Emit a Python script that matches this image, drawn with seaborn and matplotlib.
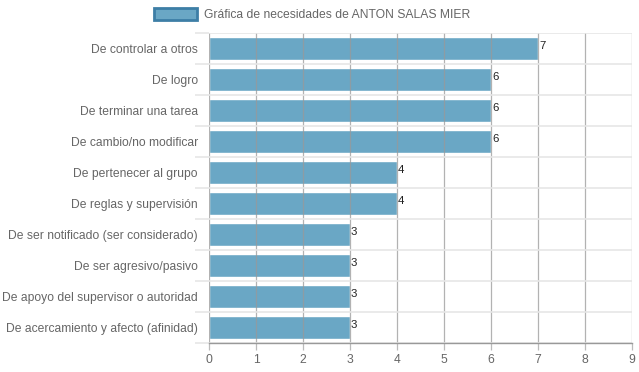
import numpy as np
import matplotlib
matplotlib.use("Agg")
import matplotlib.pyplot as plt
from matplotlib.patches import Patch
import seaborn as sns

categories = [
    "De controlar a otros",
    "De logro",
    "De terminar una tarea",
    "De cambio/no modificar",
    "De pertenecer al grupo",
    "De reglas y supervisión",
    "De ser notificado (ser considerado)",
    "De ser agresivo/pasivo",
    "De apoyo del supervisor o autoridad",
    "De acercamiento y afecto (afinidad)",
]
values = [7, 6, 6, 6, 4, 4, 3, 3, 3, 3]
series_label = "Gráfica de necesidades de ANTON SALAS MIER"
x_ticks = list(range(0, 10))

bar_color = "#6aa7c5"
edge_dark = "#3d7ea6"
text_color = "#666666"

sns.set_theme(style="white")
plt.rcParams["font.family"] = ["Liberation Sans", "DejaVu Sans"]

fig = plt.figure(figsize=(6.39, 3.72), dpi=100)
ax = fig.add_axes([209 / 639, 1 - 343 / 372, (632 - 209) / 639, (343 - 33) / 372])

sns.barplot(x=values, y=categories, orient="h", color=bar_color, saturation=1,
            width=0.72, ax=ax, zorder=1)

ax.set_xlim(0, 9)
ax.set_ylim(len(categories) - 0.5, -0.5)
ax.set_xticks(x_ticks)
ax.set_xticklabels([str(t) for t in x_ticks])
ax.set_yticks(np.arange(len(categories)))
ax.set_yticks(np.arange(len(categories) + 1) - 0.5, minor=True)
ax.set_xlabel("")
ax.set_ylabel("")

for s in ["top", "right", "left"]:
    ax.spines[s].set_visible(False)
ax.spines["bottom"].set_color("#999999")
ax.spines["bottom"].set_linewidth(1)
ax.spines["bottom"].set_zorder(3)

ax.set_axisbelow(False)
ax.grid(axis="x", which="major", color="#999999", linewidth=0.9, alpha=0.75, zorder=2)
ax.grid(axis="y", which="minor", color="#e6e6e6", linewidth=1.2, zorder=0.5)
ax.grid(axis="y", which="major", visible=False)

ax.tick_params(axis="x", which="major", length=5, color="#bbbbbb", width=0.9,
               labelsize=8.7, labelcolor=text_color, pad=3, bottom=True)
ax.tick_params(axis="y", which="major", length=0, labelsize=8.7,
               labelcolor=text_color, pad=8)
ax.tick_params(axis="y", which="minor", length=10, color="#e6e6e6", width=1.2, left=True)

for i, v in enumerate(values):
    ax.text(v + 0.02, i - 0.08, str(v), ha="left", va="center",
            fontsize=8.2, color="#222222", zorder=4)

handle = Patch(facecolor=bar_color, edgecolor=edge_dark, linewidth=2)
fig.legend(handles=[handle], labels=[series_label], loc="center",
           bbox_to_anchor=(312 / 639, 1 - 14.5 / 372), frameon=False,
           handlelength=3.6, handleheight=1.1, handletextpad=0.55,
           prop={"size": 8.7}, labelcolor=text_color)

fig.savefig("out.png", dpi=100)
